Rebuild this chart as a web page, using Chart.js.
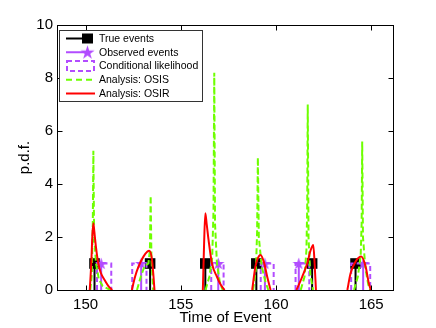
<!DOCTYPE html>
<html>
<head>
<meta charset="utf-8">
<script src="https://cdn.jsdelivr.net/npm/chart.js@4"></script>
<style>
  html, body { margin: 0; padding: 0; background: #fff; }
  #c { display: block; }
</style>
</head>
<body>
<canvas id="c" width="436" height="328"></canvas>
<script>
// axis ticks
var xTicks = [150, 155, 160, 165];
var yTicks = [0, 2, 4, 6, 8, 10];

// event times
var trueT = [150.47, 153.39, 156.29, 158.97, 161.9, 164.18];
var obsT = [150.82, 152.92, 156.97, 159.42, 161.2, 164.58];
var condStart = [150.6, 152.45, 156.6, 159.2, 161.03, 163.95];
var condEnd = [151.35, 153.2, 157.25, 159.88, 161.75, 164.95];
var condHeight = 1;

// OSIS analysis (null = gap between events)
var osisT = [150.25, 150.33, 150.38, 150.41, 150.45, 150.55, 150.7, 150.9, 151.3, null,
  152.7, 152.9, 153.1, 153.3, 153.38, 153.42, 153.46, 153.55, null,
  156.3, 156.5, 156.65, 156.72, 156.76, 156.8, 156.9, 157.05, 157.2, null,
  158.8, 158.95, 159.01, 159.05, 159.1, 159.25, 159.45, 159.6, null,
  161.3, 161.5, 161.6, 161.64, 161.67, 161.71, 161.8, 161.95, null,
  164.1, 164.3, 164.45, 164.5, 164.53, 164.57, 164.7, 164.85, 164.95];
var osisP = [0, 0.6, 2.5, 5.25, 2.0, 1.0, 0.4, 0.15, 0, null,
  0, 0.5, 0.9, 1.0, 1.5, 3.55, 1.2, 0, null,
  0, 0.5, 1.2, 3.0, 8.2, 2.5, 1.0, 0.3, 0, null,
  0, 0.8, 2.2, 5.0, 2.0, 0.9, 0.3, 0, null,
  0, 0.5, 1.5, 3.0, 7.0, 2.0, 0.6, 0, null,
  0, 0.5, 1.3, 2.5, 5.6, 2.0, 0.8, 0.2, 0];

// OSIR analysis
var osirT = [150.22, 150.3, 150.36, 150.41, 150.46, 150.55, 150.67, 150.8, 151.0, 151.2, 151.4, null,
  152.43, 152.6, 152.78, 153.04, 153.25, 153.34, 153.48, 153.57, 153.62, null,
  156.16, 156.22, 156.29, 156.36, 156.46, 156.64, 156.9, 157.1, 157.3, null,
  158.75, 158.92, 159.05, 159.18, 159.36, 159.54, 159.72, null,
  161.08, 161.38, 161.64, 161.82, 161.96, 162.03, 162.1, null,
  163.75, 163.92, 164.18, 164.48, 164.71, 164.88, 164.98];
var osirP = [0, 1.0, 2.1, 2.52, 2.2, 1.6, 1.0, 0.65, 0.38, 0.15, 0, null,
  0, 0.5, 0.88, 1.26, 1.45, 1.48, 1.2, 0.5, 0, null,
  0, 1.6, 2.9, 2.5, 1.89, 1.0, 0.5, 0.2, 0, null,
  0, 0.88, 1.2, 1.32, 1.07, 0.5, 0, null,
  0, 0.5, 1.0, 1.5, 1.7, 1.0, 0, null,
  0, 0.63, 1.07, 1.26, 0.88, 0.25, 0];

var green = 'rgb(110, 255, 0)';
var purple = 'rgb(178, 76, 255)';
var axisFont = { family: 'Liberation Sans, Arial, sans-serif', size: 15 };

// helpers to turn the arrays into points
function curve(ts, ps) {
  var pts = [];
  var last = ts[0];
  for (var i = 0; i < ts.length; i++) {
    if (ts[i] === null) pts.push({ x: last, y: null });
    else { pts.push({ x: ts[i], y: ps[i] }); last = ts[i]; }
  }
  return pts;
}
function stems(ts, h) {
  var pts = [];
  ts.forEach(function (t) {
    pts.push({ x: t, y: 0 }, { x: t, y: h }, { x: t, y: null });
  });
  return pts;
}
function boxes(s, e, h) {
  var pts = [];
  for (var i = 0; i < s.length; i++) {
    pts.push({ x: s[i], y: 0 }, { x: s[i], y: h }, { x: e[i], y: h }, { x: e[i], y: 0 }, { x: e[i], y: null });
  }
  return pts;
}

// filled pentagram, like matlab's 'p' marker
function makeStar(size) {
  var c = document.createElement('canvas');
  c.width = size; c.height = size;
  var g = c.getContext('2d');
  var r = size / 2, ri = r * 0.382;
  g.fillStyle = purple;
  g.beginPath();
  for (var k = 0; k < 10; k++) {
    var ang = -Math.PI / 2 + k * Math.PI / 5;
    var rr = k % 2 ? ri : r;
    g.lineTo(r + rr * Math.cos(ang), r + 0.5 + rr * Math.sin(ang));
  }
  g.closePath();
  g.fill();
  return c;
}
var star = makeStar(13);

function topOnly(size) {
  return function (ctx) { return ctx.raw && ctx.raw.y > 0 ? size : 0; };
}

// box, inward ticks, legend
var framePlugin = {
  id: 'frame',
  afterDraw: function (chart) {
    var ctx = chart.ctx, a = chart.chartArea;
    var xs = chart.scales.x, ys = chart.scales.y;
    var L = Math.round(a.left) + 0.5, R = Math.round(a.right) - 0.5;
    var T = Math.round(a.top) + 0.5, B = Math.round(a.bottom) + 0.5;
    ctx.save();
    ctx.strokeStyle = '#000';
    ctx.lineWidth = 1;
    ctx.strokeRect(L, T, R - L, B - T);
    ctx.beginPath();
    xTicks.forEach(function (v) {
      var x = Math.round(xs.getPixelForValue(v)) + 0.5;
      ctx.moveTo(x, B); ctx.lineTo(x, B - 5);
      ctx.moveTo(x, T); ctx.lineTo(x, T + 5);
    });
    yTicks.forEach(function (v) {
      var y = Math.round(ys.getPixelForValue(v)) + 0.5;
      ctx.moveTo(L, y); ctx.lineTo(L + 5, y);
      ctx.moveTo(R, y); ctx.lineTo(R - 5, y);
    });
    ctx.stroke();

    // legend
    var lx = 59.5, ly = 30.5, lw = 143, lh = 71;
    ctx.fillStyle = '#fff';
    ctx.fillRect(lx, ly, lw, lh);
    ctx.strokeStyle = '#333';
    ctx.strokeRect(lx, ly, lw, lh);
    var names = ['True events', 'Observed events', 'Conditional likelihood', 'Analysis: OSIS', 'Analysis: OSIR'];
    var x0 = 66, x1 = 95, xm = 87.5;
    ctx.font = '10.5px Liberation Sans, Arial, sans-serif';
    ctx.textBaseline = 'middle';
    names.forEach(function (name, i) {
      var y = 38.5 + i * 13.75;
      ctx.setLineDash([]);
      ctx.lineWidth = 2;
      if (i === 0) {
        ctx.strokeStyle = '#000';
        ctx.beginPath(); ctx.moveTo(x0, y); ctx.lineTo(xm, y); ctx.stroke();
        ctx.fillStyle = '#000';
        ctx.fillRect(xm - 5.5, y - 5, 11, 10);
      } else if (i === 1) {
        ctx.strokeStyle = purple;
        ctx.beginPath(); ctx.moveTo(x0, y); ctx.lineTo(xm, y); ctx.stroke();
        ctx.drawImage(makeStar(15), xm - 7.5, y - 7.5);
      } else if (i === 2) {
        ctx.strokeStyle = purple;
        ctx.setLineDash([5, 3]);
        ctx.strokeRect(x0 + 1, y - 5, x1 - x0 - 2, 10);
      } else if (i === 3) {
        ctx.strokeStyle = green;
        ctx.setLineDash([6, 4]);
        ctx.beginPath(); ctx.moveTo(x0, y); ctx.lineTo(x1, y); ctx.stroke();
      } else {
        ctx.strokeStyle = 'red';
        ctx.beginPath(); ctx.moveTo(x0, y); ctx.lineTo(x1, y); ctx.stroke();
      }
      ctx.fillStyle = '#000';
      ctx.fillText(name, 99, y + 0.5);
    });
    ctx.restore();
  }
};

var ctx = document.getElementById('c').getContext('2d');
var chart = new Chart(ctx, {
  type: 'line',
  data: {
    datasets: [
      {
        label: 'True events',
        data: stems(trueT, 1),
        borderColor: '#000',
        backgroundColor: '#000',
        borderWidth: 2,
        pointStyle: 'rect',
        pointRadius: topOnly(7.5),
        pointBorderWidth: 0,
        order: 5
      },
      {
        label: 'Observed events',
        data: stems(obsT, 1),
        borderColor: purple,
        borderWidth: 2,
        pointStyle: star,
        pointRadius: topOnly(7),
        order: 4
      },
      {
        label: 'Conditional likelihood',
        data: boxes(condStart, condEnd, condHeight),
        borderColor: purple,
        borderWidth: 2,
        borderDash: [5, 3],
        pointRadius: 0,
        order: 3
      },
      {
        label: 'Analysis: OSIS',
        data: curve(osisT, osisP),
        borderColor: green,
        borderWidth: 2,
        borderDash: [6, 3],
        pointRadius: 0,
        order: 2
      },
      {
        label: 'Analysis: OSIR',
        data: curve(osirT, osirP),
        borderColor: 'red',
        borderWidth: 2,
        cubicInterpolationMode: 'monotone',
        pointRadius: 0,
        order: 1
      }
    ]
  },
  options: {
    responsive: false,
    animation: false,
    devicePixelRatio: 1,
    spanGaps: false,
    layout: { padding: { top: 25, right: 42, left: 0, bottom: 0 } },
    plugins: { legend: { display: false }, tooltip: { enabled: false } },
    scales: {
      x: {
        type: 'linear',
        min: 148.5,
        max: 166.2,
        afterBuildTicks: function (s) { s.ticks = xTicks.map(function (v) { return { value: v }; }); },
        afterFit: function (s) { s.height = 38; },
        grid: { display: false, drawTicks: false },
        border: { display: false },
        ticks: { color: '#000', font: axisFont, padding: 6, maxRotation: 0 },
        title: { display: true, text: 'Time of Event', color: '#000', font: axisFont, padding: { top: 0, bottom: 1 } }
      },
      y: {
        min: 0,
        max: 10,
        afterBuildTicks: function (s) { s.ticks = yTicks.map(function (v) { return { value: v }; }); },
        afterFit: function (s) { s.width = 57; },
        grid: { display: false, drawTicks: false },
        border: { display: false },
        ticks: { color: '#000', font: axisFont, padding: 4 },
        title: { display: true, text: 'p.d.f.', color: '#000', font: axisFont, padding: { top: 16, bottom: 0 } }
      }
    }
  },
  plugins: [framePlugin]
});
</script>
</body>
</html>
